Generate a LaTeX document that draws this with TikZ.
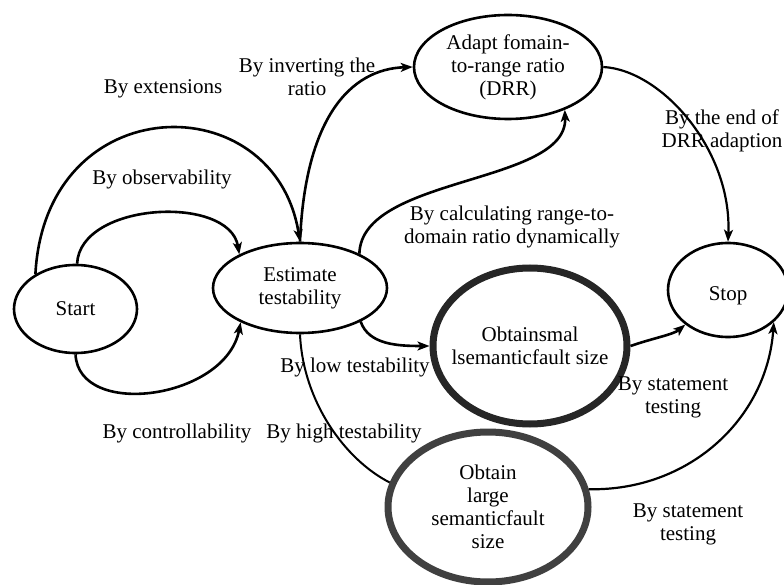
\documentclass[tikz,border=0pt]{standalone}
\usepackage{fontspec}
\setmainfont{Liberation Serif}
\usetikzlibrary{shapes.geometric,arrows.meta}
\begin{document}
\begin{tikzpicture}[x=1pt,y=-1pt,
    every node/.style={font=\fontsize{21}{23}\selectfont,align=center},
    state/.style={ellipse,draw,line width=2.6pt,inner sep=0pt},
    heavy/.style={state,line width=7pt},
    link/.style={line width=2.6pt,-{Stealth[length=12pt,width=9pt,inset=3pt]}},
    plain/.style={line width=2pt}]
    \useasboundingbox (0,0) rectangle (784,585);
    % states
    \node[state,minimum width=123pt,minimum height=88pt] (start) at (75.5,309) {Start};
    \node[state,minimum width=174pt,minimum height=90pt] (est) at (300,288) {Estimate\\testability};
    \node[state,minimum width=188pt,minimum height=104pt] (adapt) at (508,67) {Adapt fomain-\\to-range ratio\\(DRR)};
    \node[state,minimum width=120pt,minimum height=94pt,label={[yshift=-6pt]center:Stop}] (stop) at (728,290) {};
    \node[heavy,draw=black!85,minimum width=194pt,minimum height=156pt,inner xsep=-14pt] (small) at (530,346) {Obtainsmal\\lsemanticfault size};
    \node[heavy,draw=black!75,minimum width=200pt,minimum height=150pt] (large) at (488,507) {Obtain\\large\\semanticfault\\size};
    % transitions
    \draw[link] (start.139) .. controls +(10,-187) and +(-25,-158) .. (est.90);
    \draw[link] (start.88) .. controls +(3,-62) and +(-10,-60) .. (est.151);
    \draw[link] (start.south) .. controls +(3,65) and +(-15,77) .. (est.210);
    \draw[link] (est.90) .. controls +(5,-123) and +(-63,2) .. (adapt.west);
    \draw[link] (est.30) .. controls +(2,-78) and +(3,75) .. (adapt.323);
    \draw[link] (est.331) .. controls +(8,23) and +(-32,0) .. (small.west);
    \draw[plain] (est.south) .. controls +(3,67) and +(-45,-23) .. (large.166);
    \draw[link,line width=2.2pt] (adapt.east) .. controls +(58,3) and +(4,-92) .. (stop.north);
    \draw[link] (small.east) .. controls +(23,-8) and +(-12,10) .. (stop.219);
    \draw[link,line width=2.2pt] (large.10) .. controls +(100,2) and +(-7,97) .. (stop.325);
    % labels
    \node (lext) at (163,89) {By extensions};
    \node (linv) at (307,77) {By inverting the\\ratio};
    \node (lobs) at (162,179) {By observability};
    \node (lcon) at (177,433) {By controllability};
    \node (lhigh) at (344,433) {By high testability};
    \node (llow) at (355,367) {By low testability};
    \node (lcalc) at (512,227) {By calculating range-to-\\domain ratio dynamically};
    \node (lend) at (722,131) {By the end of\\DRR adaption};
    \node (lst1) at (673,397) {By statement\\testing};
    \node (lst2) at (688,524) {By statement\\testing};
\end{tikzpicture}
\end{document}
